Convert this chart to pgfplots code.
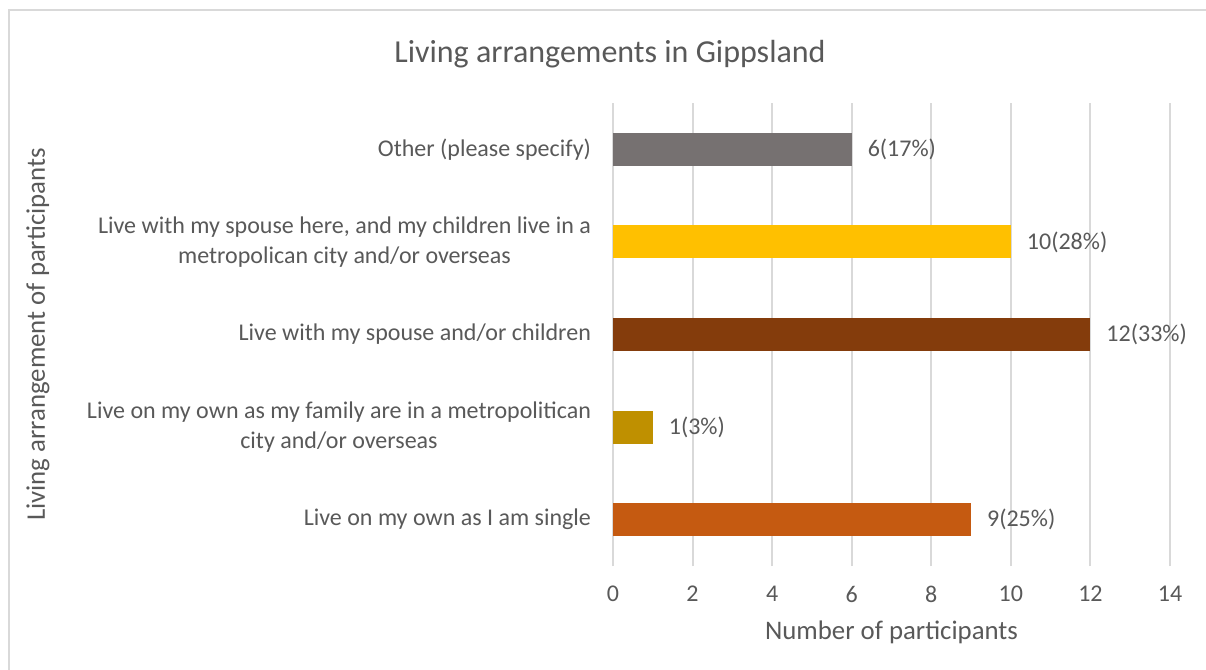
\documentclass[border=0pt]{standalone}
\usepackage{pgfplots}
\pgfplotsset{compat=1.18}
\usepackage{fontspec}
\setmainfont{Carlito}
\definecolor{txt}{HTML}{595959}
\definecolor{gridc}{HTML}{D9D9D9}
\definecolor{cgray}{HTML}{767171}
\definecolor{cyellow}{HTML}{FFC000}
\definecolor{cbrown}{HTML}{843C0C}
\definecolor{cgold}{HTML}{BF9000}
\definecolor{corange}{HTML}{C55A11}
\begin{document}
\begin{tikzpicture}
\useasboundingbox (0,0) rectangle (603pt,335pt);
\fill[white] (0,0) rectangle (603pt,335pt);
\draw[gridc, line width=1pt] (4.5pt,0) -- (4.5pt,330pt) -- (603pt,330pt);
\begin{axis}[
  at={(306.5pt,52pt)}, anchor=south west,
  width=278.5pt, height=231.5pt, scale only axis,
  xmin=0, xmax=14, xtick={0,2,...,14},
  ymin=-0.5, ymax=4.5, ytick={0,1,2,3,4},
  ymajorgrids=false,
  yticklabels={
    {Live on my own as I am single},
    {Live on my own as my family are in a metropolitican\\city and/or overseas},
    {Live with my spouse and/or children},
    {Live with my spouse here, and my children live in a\\metropolican city and/or overseas},
    {Other (please specify)}},
  yticklabel style={align=center, font=\fontsize{12}{15}\selectfont, text=txt, xshift=-7.5pt},
  xticklabel style={font=\fontsize{12}{14}\selectfont, text=txt, yshift=-6.5pt},
  /pgf/number format/assume math mode=true,
  major tick length=0pt,
  axis line style={draw=none},
  xmajorgrids, major grid style={draw=gridc, line width=1pt},
  xbar, bar width=16.5pt, bar shift=0pt,
  point meta=explicit symbolic,
  nodes near coords,
  nodes near coords style={anchor=west, xshift=4.5pt, text=txt, font=\fontsize{12}{14}\selectfont},
  title={Living arrangements in Gippsland},
  title style={at={(axis description cs:-0.0054,1.110)}, anchor=center, yshift=-7pt, text=txt, font=\fontsize{16}{19}\selectfont},
  xlabel={Number of participants},
  xlabel style={at={(axis description cs:0.5,-0.1426)}, anchor=center, text=txt, font=\fontsize{13.4}{16}\selectfont},
  ylabel={Living arrangement of participants},
  ylabel style={at={(axis description cs:-1.0323,0.5)}, anchor=center, text=txt, font=\fontsize{13.4}{16}\selectfont},
]
\addplot[fill=corange, draw=none] coordinates {(9,0) [9(25\%)]};
\addplot[fill=cgold, draw=none] coordinates {(1,1) [1(3\%)]};
\addplot[fill=cbrown, draw=none] coordinates {(12,2) [12(33\%)]};
\addplot[fill=cyellow, draw=none] coordinates {(10,3) [10(28\%)]};
\addplot[fill=cgray, draw=none] coordinates {(6,4) [6(17\%)]};
\end{axis}
\end{tikzpicture}
\end{document}
